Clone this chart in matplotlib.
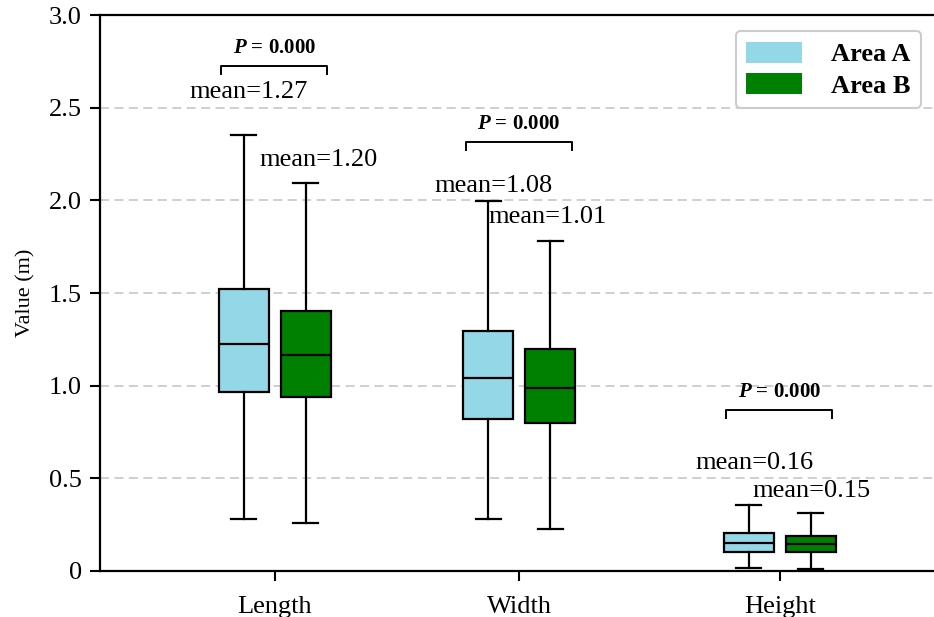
import matplotlib
matplotlib.use("Agg")
import matplotlib.pyplot as plt
from matplotlib.patches import Patch

plt.rcParams["font.family"] = ["Liberation Serif", "DejaVu Serif"]
plt.rcParams["mathtext.fontset"] = "custom"
plt.rcParams["mathtext.rm"] = "Liberation Serif"
plt.rcParams["mathtext.bfit"] = "Liberation Serif:italic:bold"

# Données
categories = ["Length", "Width", "Height"]
groupes = ["Area A", "Area B"]
couleurs = ["#94d7e6", "#008000"]

# [Length, Width, Height] pour chaque zone
wmin_a = [0.28, 0.28, 0.016]
q1_a = [0.966, 0.820, 0.104]
med_a = [1.225, 1.042, 0.153]
q3_a = [1.522, 1.295, 0.207]
wmax_a = [2.353, 1.997, 0.356]

wmin_b = [0.259, 0.227, 0.009]
q1_b = [0.939, 0.799, 0.103]
med_b = [1.166, 0.988, 0.144]
q3_b = [1.403, 1.198, 0.189]
wmax_b = [2.094, 1.781, 0.311]

moy_a = [1.27, 1.08, 0.16]
moy_b = [1.20, 1.01, 0.15]
p_values = [0.000, 0.000, 0.000]

# Position des annotations (y en données)
y_moy_a = [2.585, 2.078, 0.583]
y_moy_b = [2.218, 1.91, 0.432]
dx_moy_a = [0.02, 0.022, 0.02]
dx_moy_b = [0.052, -0.01, 0.0]
y_crochet = [2.725, 2.315, 0.869]

pos_cat = [0.0, 0.978, 2.02]
decal = 0.124
largeur = 0.2

fig = plt.figure(figsize=(9.34, 6.17), dpi=100)
ax = fig.add_axes([0.107, 0.0746, 0.893, 0.901])

for j, (wlo, q1, med, q3, whi) in enumerate([
        (wmin_a, q1_a, med_a, q3_a, wmax_a),
        (wmin_b, q1_b, med_b, q3_b, wmax_b)]):
    stats = []
    for i in range(len(categories)):
        stats.append({"whislo": wlo[i], "q1": q1[i], "med": med[i],
                      "q3": q3[i], "whishi": whi[i], "fliers": []})
    positions = [p + (2 * j - 1) * decal for p in pos_cat]
    ax.bxp(stats, positions=positions, widths=largeur, patch_artist=True,
           showfliers=False, manage_ticks=False,
           boxprops=dict(facecolor=couleurs[j], edgecolor="black", linewidth=1.6),
           medianprops=dict(color="black", linewidth=1.6),
           whiskerprops=dict(color="black", linewidth=1.6),
           capprops=dict(color="black", linewidth=1.6))

# Moyennes
for i in range(len(categories)):
    ax.text(pos_cat[i] - decal + dx_moy_a[i], y_moy_a[i], f"mean={moy_a[i]:.2f}",
            ha="center", va="center", fontsize=19)
    ax.text(pos_cat[i] + decal + dx_moy_b[i], y_moy_b[i], f"mean={moy_b[i]:.2f}",
            ha="center", va="center", fontsize=19)

# Crochets de significativité
for i in range(len(categories)):
    x1 = pos_cat[i] - 0.215
    x2 = pos_cat[i] + 0.21
    y = y_crochet[i]
    ax.plot([x1, x1, x2, x2], [y - 0.045, y, y, y - 0.045], color="black", lw=1.4)
    ax.text((x1 + x2) / 2, y + 0.045, r"$\mathbfit{P}$" + f" = {p_values[i]:.3f}",
            ha="center", va="bottom", fontsize=15, fontweight="bold")

ax.set_xlim(-0.7, 2.636)
ax.set_ylim(0, 3.0)
ax.set_xticks(pos_cat)
ax.set_xticklabels(categories, fontsize=19)
ax.set_yticks([0, 0.5, 1.0, 1.5, 2.0, 2.5, 3.0])
ax.set_yticklabels(["0", "0.5", "1.0", "1.5", "2.0", "2.5", "3.0"], fontsize=19)
ax.set_ylabel("Value (m)", fontsize=16, labelpad=10)
ax.tick_params(axis="both", direction="out", length=7, width=1.5)
ax.tick_params(axis="x", pad=11)
ax.tick_params(axis="y", pad=6)
ax.yaxis.grid(True, linestyle=(0, (5, 3)), color="#cccccc", linewidth=1.3)
ax.set_axisbelow(True)
ax.spines["right"].set_visible(False)
for s in ["left", "top", "bottom"]:
    ax.spines[s].set_linewidth(1.6)

handles = [Patch(facecolor=c, edgecolor="none") for c in couleurs]
leg = ax.legend(handles, groupes, loc="upper right", bbox_to_anchor=(1.0, 0.995),
                prop={"weight": "bold", "size": 19}, handlelength=2.1,
                handleheight=0.85, handletextpad=1.1, labelspacing=0.25,
                borderpad=0.4, fancybox=True, framealpha=1)
leg.get_frame().set_edgecolor("#cccccc")
leg.get_frame().set_linewidth(1.5)

fig.savefig("out.png", dpi=100)
